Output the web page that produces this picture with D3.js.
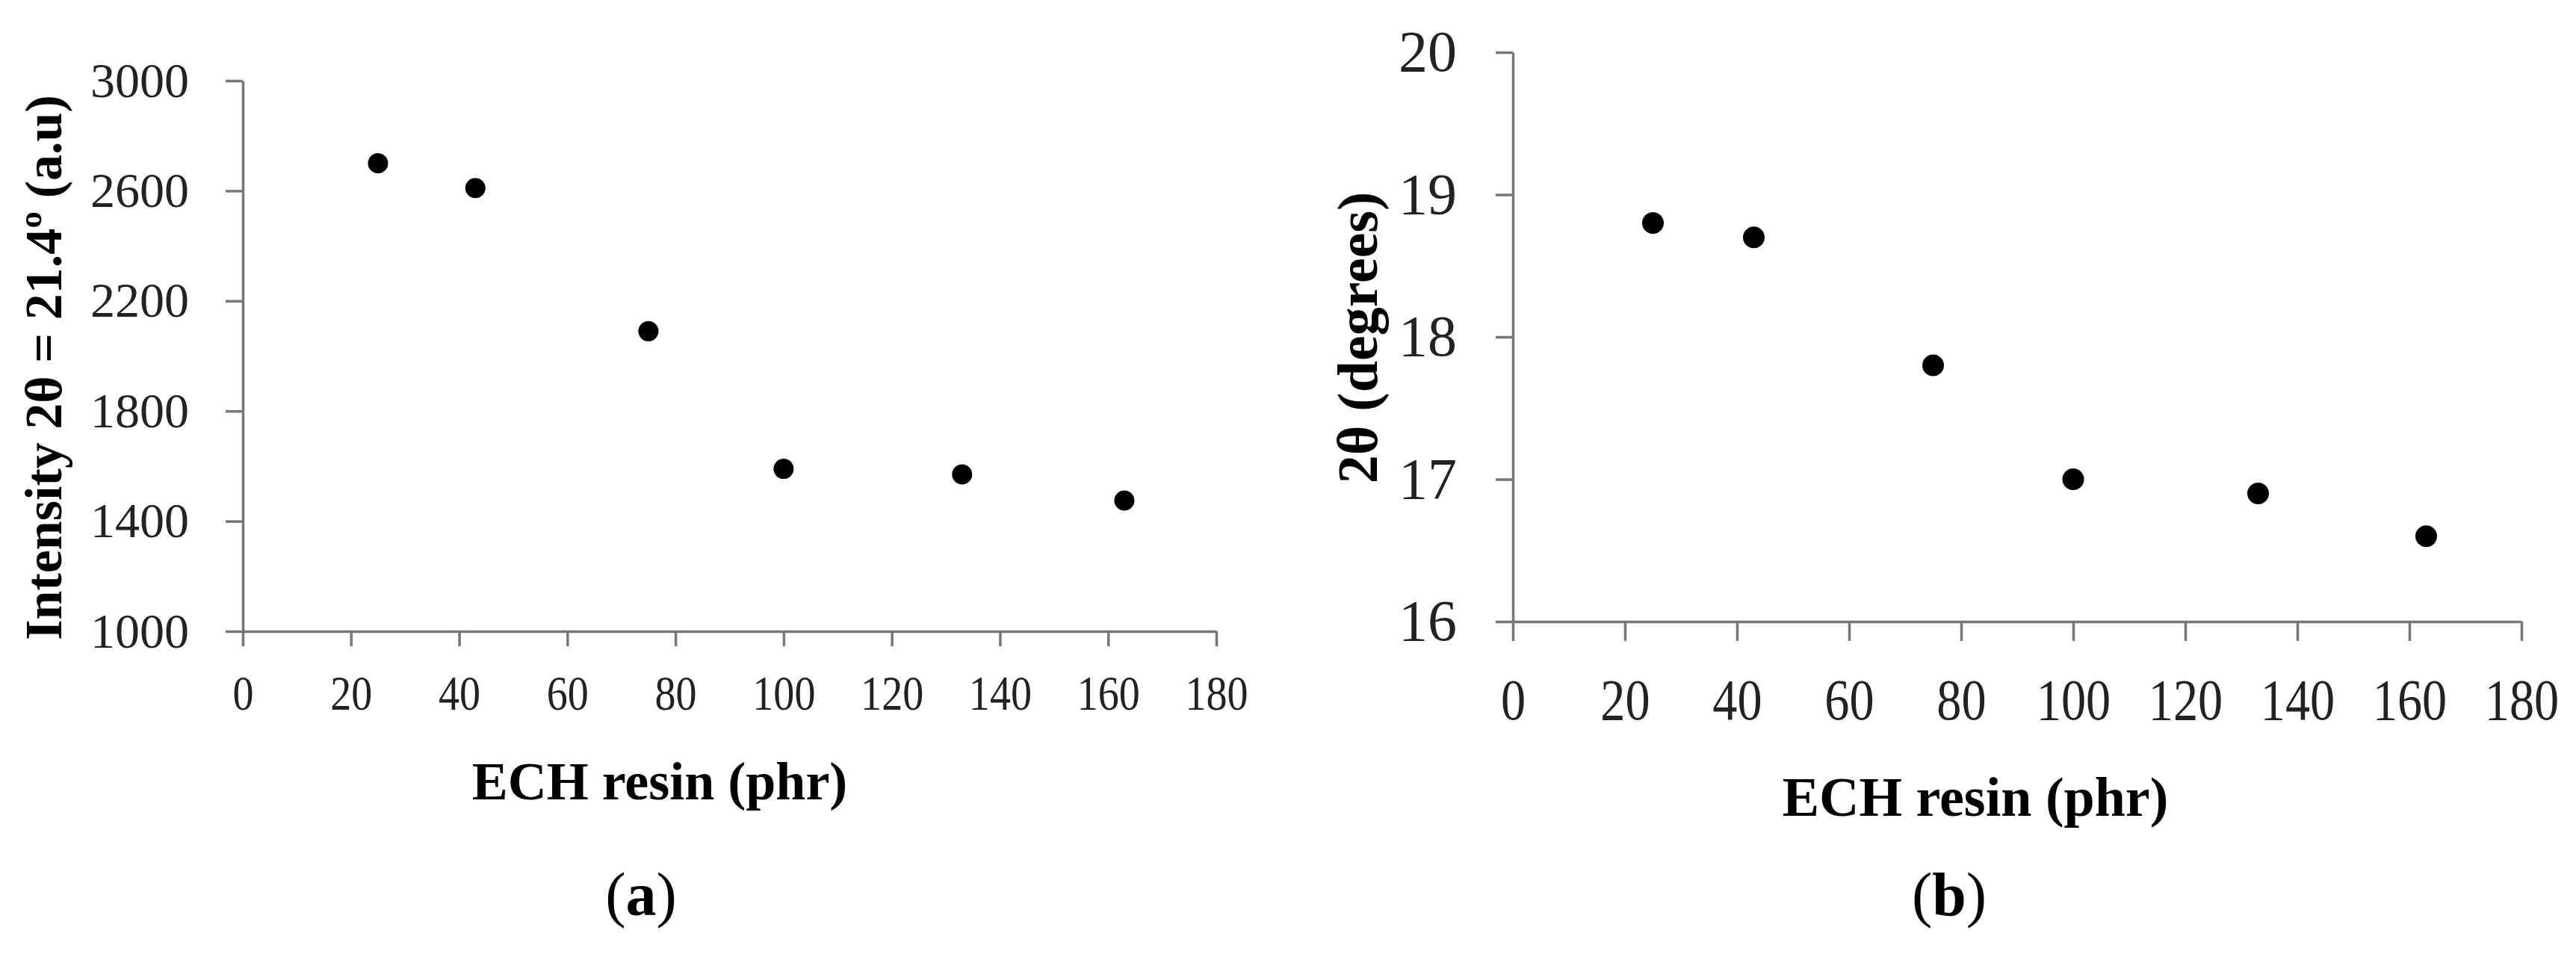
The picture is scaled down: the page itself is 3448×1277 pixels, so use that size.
<!DOCTYPE html>
<html>
<head>
<meta charset="utf-8">
<script src="https://cdn.jsdelivr.net/npm/d3@7"></script>
<style>
  body { margin: 0; background: #fff; }
  svg { display: block; }
  .axis path, .axis line { stroke: #777; stroke-width: 3.5; }
  .axis text { fill: #222; font-family: "Liberation Serif", "Times New Roman", serif; }
  .title { font-family: "Liberation Serif", "Times New Roman", serif; font-weight: bold; fill: #000; }
</style>
</head>
<body>
<div class="chart"></div>
<script>
// values
var echResin = [25, 43, 75, 100, 133, 163];          // phr, shared by both panels
var intensity = [2700, 2610, 2090, 1590, 1570, 1475]; // panel (a)
var twoTheta = [18.8, 18.7, 17.8, 17.0, 16.9, 16.6];  // panel (b)

var xTicks = [0, 20, 40, 60, 80, 100, 120, 140, 160, 180];
var intensityTicks = [1000, 1400, 1800, 2200, 2600, 3000];
var thetaTicks = [16, 17, 18, 19, 20];

var W = 3448, H = 1277;

var svg = d3.select('.chart')
  .append('svg')
    .attr('width', W)
    .attr('height', H);

svg.append('rect').attr('width', W).attr('height', H).attr('fill', '#fff');

// one panel = scatter with left and bottom axes
function drawPanel(p) {
  var x = d3.scaleLinear().domain([0, 180]).range([p.left, p.right]);
  var y = d3.scaleLinear().domain(p.yDomain).range([p.bottom, p.top]);

  var g = svg.append('g');

  // x axis
  var xAxis = g.append('g')
    .attr('class', 'axis')
    .attr('transform', 'translate(0,' + p.bottom + ')')
    .call(d3.axisBottom(x)
      .tickValues(xTicks)
      .tickSize(p.xTickSize)
      .tickSizeOuter(0)
      .tickPadding(p.xPad)
      .tickFormat(d3.format('d')));
  // x labels are a bit narrower in the original
  xAxis.selectAll('text')
    .style('font-size', p.font + 'px')
    .attr('transform', 'scale(0.85,1)');

  // y axis
  var yAxis = g.append('g')
    .attr('class', 'axis')
    .attr('transform', 'translate(' + p.left + ',0)')
    .call(d3.axisLeft(y)
      .tickValues(p.yTicks)
      .tickSize(p.yTickSize)
      .tickSizeOuter(0)
      .tickPadding(p.yPad)
      .tickFormat(d3.format('d')));
  yAxis.selectAll('text').style('font-size', p.font + 'px');

  // points
  g.selectAll('circle')
      .data(p.values)
    .enter().append('circle')
      .attr('cx', function(d, i) { return x(echResin[i]); })
      .attr('cy', function(d) { return y(d); })
      .attr('r', p.r)
      .attr('fill', '#000');

  // x title
  g.append('text')
    .attr('class', 'title')
    .attr('x', p.xTitle[0])
    .attr('y', p.xTitle[1])
    .attr('text-anchor', 'middle')
    .style('font-size', p.xTitleFont + 'px')
    .text('ECH resin (phr)');

  // y title, rotated
  g.append('text')
    .attr('class', 'title')
    .attr('transform', 'translate(' + p.yTitle[0] + ',' + p.yTitle[1] + ') rotate(-90)')
    .attr('text-anchor', 'middle')
    .style('font-size', p.yTitleFont + 'px')
    .text(p.yLabel);

  // panel letter: (a) / (b) with bold letter
  var lab = g.append('text')
    .attr('x', p.letterPos[0])
    .attr('y', p.letterPos[1])
    .attr('text-anchor', 'middle')
    .style('font-family', '"Liberation Serif", serif')
    .style('font-size', '82px')
    .attr('fill', '#000');
  lab.append('tspan').text('(');
  lab.append('tspan').style('font-weight', 'bold').text(p.letter);
  lab.append('tspan').text(')');
}

drawPanel({
  left: 325, right: 1628, top: 108, bottom: 845,
  yDomain: [1000, 3000], yTicks: intensityTicks, values: intensity,
  xTickSize: 20, xPad: 38, yTickSize: 23, yPad: 49, font: 66, r: 13.5,
  xTitle: [883, 1070], xTitleFont: 72,
  yTitle: [82, 492], yTitleFont: 70, yLabel: 'Intensity 2θ = 21.4º (a.u)',
  letter: 'a', letterPos: [858, 1225]
});

drawPanel({
  left: 2025, right: 3375, top: 70, bottom: 832,
  yDomain: [16, 20], yTicks: thetaTicks, values: twoTheta,
  xTickSize: 26, xPad: 50, yTickSize: 23, yPad: 52, font: 78, r: 14.5,
  xTitle: [2644, 1092], xTitleFont: 74,
  yTitle: [1843, 452], yTitleFont: 76, yLabel: '2θ (degrees)',
  letter: 'b', letterPos: [2609, 1225]
});
</script>
</body>
</html>
